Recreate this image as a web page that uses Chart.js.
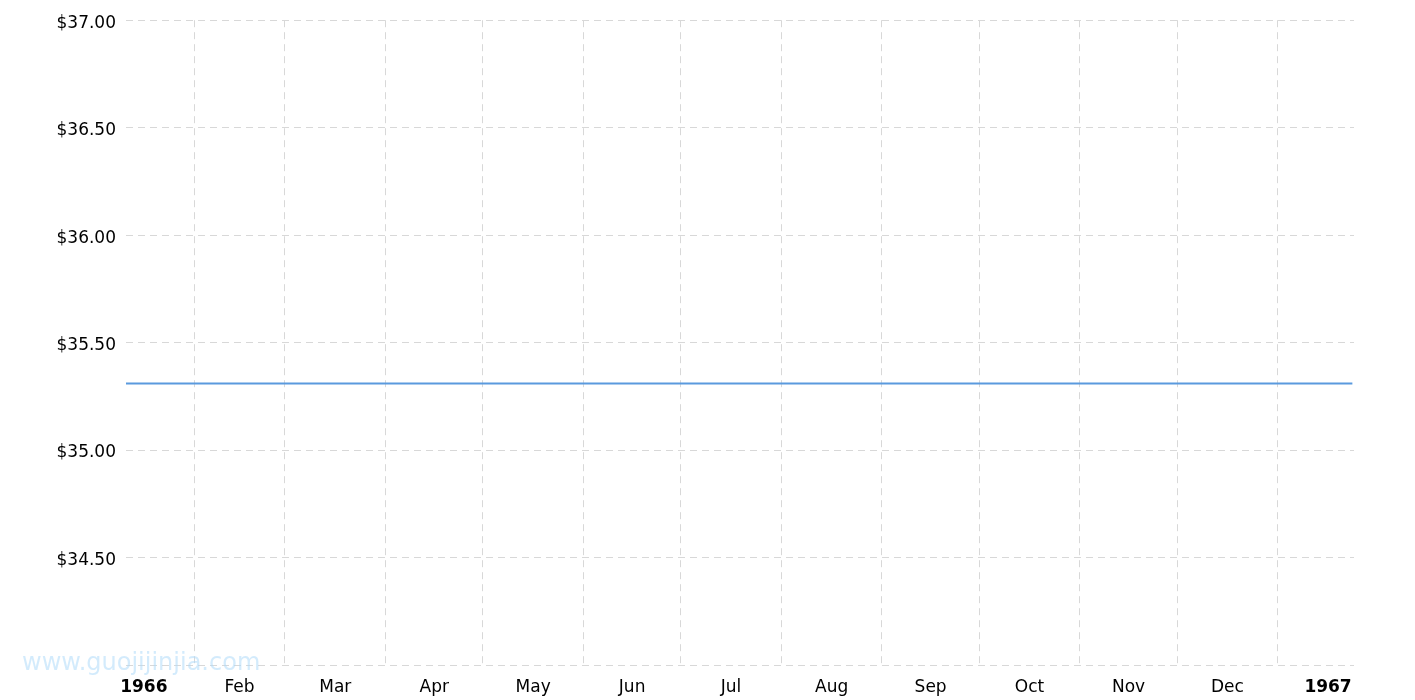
<!DOCTYPE html>
<html>
<head>
<meta charset="utf-8">
<script src="https://cdn.jsdelivr.net/npm/chart.js@4"></script>
<style>
  body { margin: 0; background: #fff; }
  #wrap { width: 1415px; height: 700px; position: relative; }
</style>
</head>
<body>
<div id="wrap"><canvas id="gold"></canvas></div>
<script>
// gold price, 1966 (monthly points, flat)
const dates = ['1966-01-11', '1966-02-01', '1966-03-01', '1966-04-01', '1966-05-01', '1966-06-01',
  '1966-07-01', '1966-08-01', '1966-09-01', '1966-10-01', '1966-11-01', '1966-12-01',
  '1967-01-01', '1967-01-24']
const prices = [35.31, 35.31, 35.31, 35.31, 35.31, 35.31, 35.31, 35.31, 35.31, 35.31, 35.31, 35.31, 35.31, 35.31]
const monthLabels = ['1966', 'Feb', 'Mar', 'Apr', 'May', 'Jun', 'Jul', 'Aug', 'Sep', 'Oct', 'Nov', 'Dec', '1967']
const yTicks = [34.0, 34.5, 35.0, 35.5, 36.0, 36.5, 37.0]

// days since 1966-01-01
const base = Date.UTC(1966, 0, 1)
function dayOf(s) {
  const p = s.split('-')
  return (Date.UTC(+p[0], +p[1] - 1, +p[2]) - base) / 86400000
}

const points = dates.map((d, i) => ({x: dayOf(d), y: prices[i]}))

// month starts get a grid line, mid-months get the label
function buildTicks(scale) {
  const t = []
  for (let m = 0; m < 13; m++) {
    const start = (Date.UTC(1966, m, 1) - base) / 86400000
    const next = (Date.UTC(1966, m + 1, 1) - base) / 86400000
    if (m > 0) t.push({value: start, kind: 'start'})
    t.push({value: (start + next) / 2, kind: 'mid', label: monthLabels[m], year: m % 12 == 0})
  }
  t.sort((a, b) => a.value - b.value)
  scale.ticks = t.filter(k => k.value >= scale.min && k.value <= scale.max)
}

const watermark = {
  id: 'watermark',
  afterDraw(chart) {
    const c = chart.ctx
    c.save()
    c.font = '24px "DejaVu Sans"'
    c.fillStyle = 'rgba(175, 218, 250, 0.55)'
    c.textBaseline = 'alphabetic'
    c.fillText('www.guojijinjia.com', 22, 670)
    c.restore()
  }
}

new Chart(document.getElementById('gold'), {
  type: 'line',
  data: {
    datasets: [{
      data: points,
      borderColor: '#5a9ade',
      borderWidth: 2,
      pointRadius: 0,
      fill: false,
      tension: 0
    }]
  },
  options: {
    responsive: true,
    maintainAspectRatio: false,
    animation: false,
    layout: {padding: {top: 20, right: 61, left: 0, bottom: 0}},
    plugins: {legend: {display: false}, tooltip: {enabled: false}},
    scales: {
      x: {
        type: 'linear',
        min: 10,
        max: 388.5,
        afterBuildTicks: buildTicks,
        afterFit(scale) { scale.height = 35 },
        border: {display: false, dash: [7, 5]},
        grid: {
          drawTicks: false,
          color: ctx => (ctx.tick && ctx.tick.kind == 'start') ? '#d8d8d8' : 'rgba(0,0,0,0)',
          lineWidth: 1
        },
        ticks: {
          autoSkip: false,
          maxRotation: 0,
          padding: 12,
          color: '#000',
          font: ctx => ({family: '"DejaVu Sans"', size: 17, weight: (ctx.tick && ctx.tick.year) ? 'bold' : 'normal'}),
          callback: function (v, i, ticks) {
            const t = ticks[i]
            return t.kind == 'mid' ? t.label : ''
          }
        }
      },
      y: {
        min: yTicks[0],
        max: yTicks[yTicks.length - 1],
        afterBuildTicks(scale) { scale.ticks = yTicks.map(v => ({value: v})) },
        afterFit(scale) { scale.width = 126 },
        border: {display: false, dash: [7, 5]},
        grid: {drawTicks: false, color: '#d8d8d8'},
        ticks: {
          padding: 10,
          labelOffset: 3,
          color: '#000',
          font: {family: '"DejaVu Sans"', size: 17},
          callback: v => v == 34 ? '' : '$' + v.toFixed(2)
        }
      }
    }
  },
  plugins: [watermark]
})
</script>
</body>
</html>
